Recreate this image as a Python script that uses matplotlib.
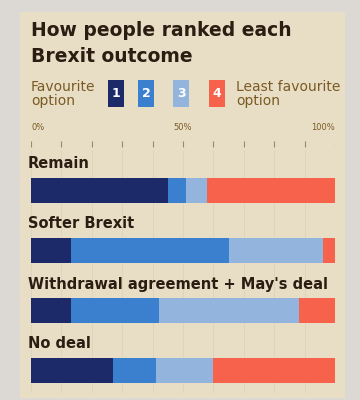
import matplotlib
matplotlib.use("Agg")
import matplotlib.pyplot as plt
from matplotlib.patches import Rectangle
import numpy as np

categories = ["Remain", "Softer Brexit", "Withdrawal agreement + May's deal", "No deal"]
rank1 = [45, 13, 13, 27]
rank2 = [6, 52, 29, 14]
rank3 = [7, 31, 46, 19]
rank4 = [42, 4, 12, 40]
tick_labels = ["0%", "50%", "100%"]
legend_labels = ["1", "2", "3", "4"]

colors = ["#1c2a6a", "#3b80cf", "#93b5dd", "#f6624c"]
beige = "#e8dec5"
text_dark = "#2b1d12"
text_brown = "#7a5a24"

W, H = 360, 400
fig = plt.figure(figsize=(3.6, 4.0), dpi=100, facecolor="#dcd8d3")

# panel background
fig.patches.append(Rectangle((20 / W, 1 - 398 / H), 325 / W, 386 / H,
                             transform=fig.transFigure, facecolor=beige,
                             edgecolor="none", zorder=-5))

# title
fig.text(31 / W, 1 - 30 / H, "How people ranked each", fontsize=13.5,
         fontweight="bold", color=text_dark, va="center", ha="left")
fig.text(31 / W, 1 - 56 / H, "Brexit outcome", fontsize=13.5,
         fontweight="bold", color=text_dark, va="center", ha="left")

# legend
fig.text(31 / W, 1 - 94 / H, "Favourite\noption", fontsize=10, color=text_brown,
         va="center", ha="left", linespacing=1.0)
fig.text(236 / W, 1 - 94 / H, "Least favourite\noption", fontsize=10,
         color=text_brown, va="center", ha="left", linespacing=1.0)
box_x = [108, 138, 173, 209]
for bx, lab, c in zip(box_x, legend_labels, colors):
    fig.patches.append(Rectangle((bx / W, 1 - 107 / H), 16 / W, 27 / H,
                                 transform=fig.transFigure, facecolor=c,
                                 edgecolor="none", zorder=1))
    fig.text((bx + 8) / W, 1 - 93.5 / H, lab, fontsize=9, fontweight="bold",
             color="white", ha="center", va="center", zorder=2)

# main axes (y in pixel-like units)
ax = fig.add_axes([31 / W, 1 - 398 / H, 304 / W, (398 - 118) / H])
ax.set_zorder(3)
ax.set_xlim(0, 100)
ax.set_ylim(398, 118)
ax.axis("off")

ticks = np.arange(0, 101, 10)
ax.vlines(ticks, 141, 147, color="#9a8a6a", lw=0.8)
ax.vlines(ticks, 150, 392, color="#ddd3ba", lw=0.6, zorder=0)
ax.text(0, 128, tick_labels[0], fontsize=6, color=text_brown, ha="left", va="center")
ax.text(50, 128, tick_labels[1], fontsize=6, color=text_brown, ha="center", va="center")
ax.text(100, 128, tick_labels[2], fontsize=6, color=text_brown, ha="right", va="center")

ys = [190 + 60 * i for i in range(len(categories))]
data = np.array([rank1, rank2, rank3, rank4])
left = np.zeros(len(categories))
for k in range(4):
    ax.barh(ys, data[k], left=left, height=25, color=colors[k], edgecolor="none", zorder=2)
    left += data[k]

for y, cat in zip(ys, categories):
    ax.text(-1, y - 26, cat, fontsize=10.5, fontweight="bold", color=text_dark,
            ha="left", va="center")

fig.savefig("out.png", dpi=100, facecolor=fig.get_facecolor())
